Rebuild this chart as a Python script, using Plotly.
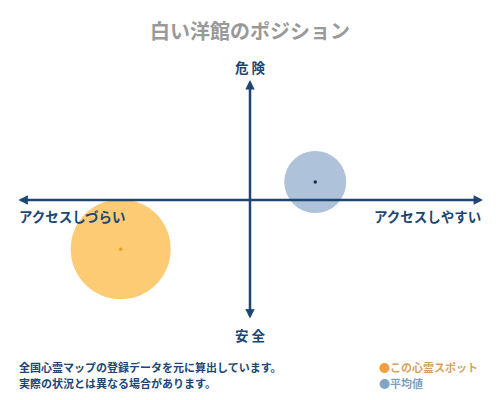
import plotly.graph_objects as go

# position values on a -1..1 scale (x: access, y: danger)
names = ["この心霊スポット", "平均値"]
access = [-0.555, 0.28]
danger = [-0.41, 0.15]

title_text = "白い洋館のポジション"
top_label = "危 険"
bottom_label = "安 全"
left_label = "アクセスしづらい"
right_label = "アクセスしやすい"
notes = ["全国心霊マップの登録データを元に算出しています。", "実際の状況とは異なる場合があります。"]

FONT = "Noto Sans CJK JP, Noto Sans, sans-serif"
NAVY = "#1c4674"
bubble_size = [100, 62]
bubble_color = ["rgba(253,190,80,0.8)", "rgba(140,168,202,0.7)"]
dot_color = ["#e8a21a", "#1c2e4a"]
legend_color = ["#f0a040", "#7fa6c8"]
legend_text_color = ["#d9a060", "#7f9fbf"]

# plot area in pixels
L, R, T, B = 17, 483, 80, 320


def px_x(px):
    return (px - L) / (R - L)


def px_y(py):
    return (B - py) / (B - T)


fig = go.Figure()

for i in range(len(names)):
    fig.add_trace(go.Scatter(x=[access[i]], y=[danger[i]], mode="markers",
                             marker=dict(size=bubble_size[i], color=bubble_color[i], line=dict(width=0)),
                             hoverinfo="skip", showlegend=False))
    fig.add_trace(go.Scatter(x=[access[i]], y=[danger[i]], mode="markers",
                             marker=dict(size=3.5, color=dot_color[i]),
                             name=names[i], showlegend=False))

# axes with arrows on both ends
fig.add_annotation(x=1, y=0, ax=-1, ay=0, xref="x", yref="y", axref="x", ayref="y",
                   text="", showarrow=True, arrowhead=2, arrowside="end+start",
                   arrowsize=0.75, arrowwidth=2.5, arrowcolor=NAVY)
fig.add_annotation(x=0, y=1, ax=0, ay=-1, xref="x", yref="y", axref="x", ayref="y",
                   text="", showarrow=True, arrowhead=2, arrowside="end+start",
                   arrowsize=0.75, arrowwidth=2.5, arrowcolor=NAVY)

fig.add_annotation(x=px_x(250), y=px_y(30), xref="paper", yref="paper", text="<b>" + title_text + "</b>",
                   showarrow=False, font=dict(size=20, color="#999999", family=FONT), yanchor="middle")

labels = [
    (250, 67, top_label, "center"),
    (250, 335, bottom_label, "center"),
    (17, 216, left_label, "left"),
    (483, 216, right_label, "right"),
]
for lx, ly, txt, anc in labels:
    fig.add_annotation(x=px_x(lx), y=px_y(ly), xref="paper", yref="paper", text="<b>" + txt + "</b>",
                       showarrow=False, xanchor=anc, yanchor="middle",
                       font=dict(size=13.5, color=NAVY, family=FONT))

for j, note in enumerate(notes):
    fig.add_annotation(x=px_x(17), y=px_y(367 + 16 * j), xref="paper", yref="paper",
                       text="<b>" + note + "</b>", showarrow=False, xanchor="left", yanchor="middle",
                       font=dict(size=11, color=NAVY, family=FONT))

for j, nm in enumerate(names):
    fig.add_annotation(x=px_x(377), y=px_y(367 + 16 * j), xref="paper", yref="paper",
                       text="<span style='color:%s'>●</span><b>%s</b>" % (legend_color[j], nm),
                       showarrow=False, xanchor="left", yanchor="middle",
                       font=dict(size=11, color=legend_text_color[j], family=FONT))

fig.update_xaxes(range=[-1, 1], visible=False, fixedrange=True)
fig.update_yaxes(range=[-1, 1], visible=False, fixedrange=True)
fig.update_layout(width=500, height=400, margin=dict(l=L, r=500 - R, t=T, b=400 - B),
                  paper_bgcolor="white", plot_bgcolor="white", showlegend=False,
                  font=dict(family=FONT))

fig.write_html("out.html", config={"displayModeBar": False},
               post_script="document.body.style.margin='0';")
